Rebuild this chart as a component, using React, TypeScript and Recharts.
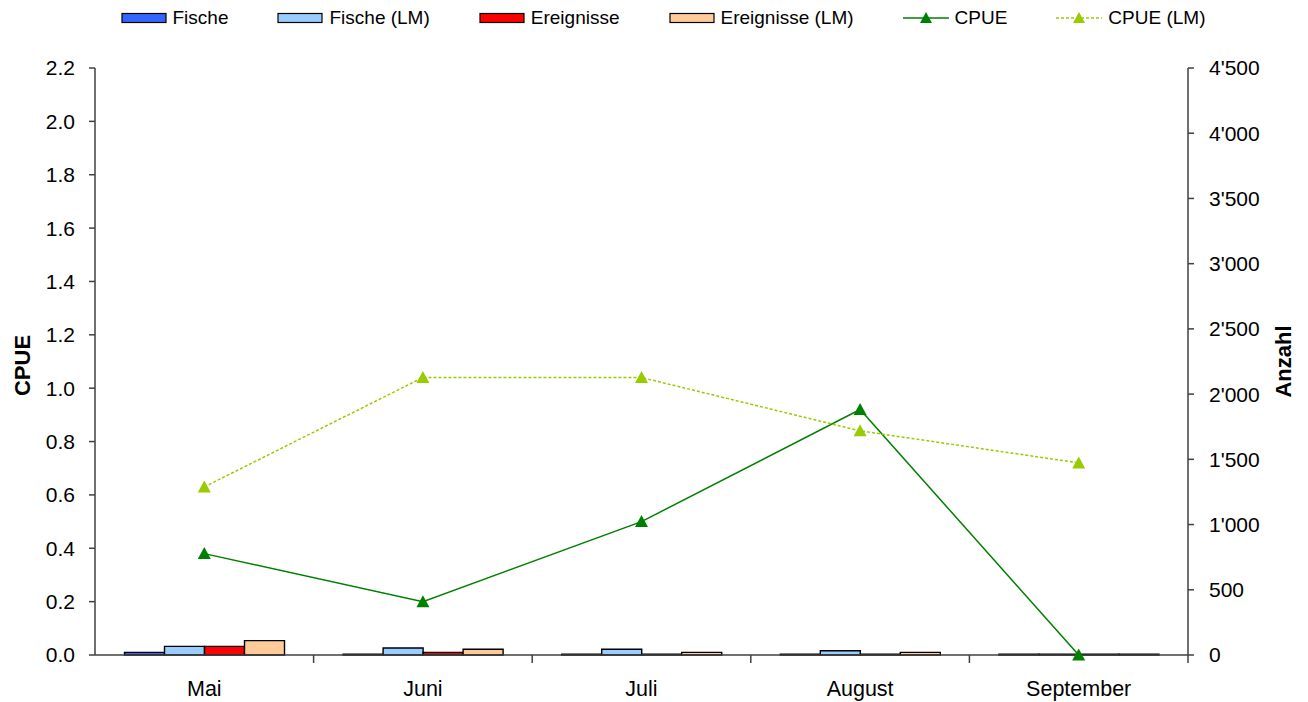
import {
  ComposedChart,
  Bar,
  Line,
  XAxis,
  YAxis,
  Legend,
} from 'recharts';

const months = ['Mai', 'Juni', 'Juli', 'August', 'September'];
const fische = [20, 6, 6, 6, 6];
const fischeLM = [66, 54, 44, 33, 6];
const ereignisse = [66, 20, 6, 6, 6];
const ereignisseLM = [110, 44, 20, 20, 6];
const cpue = [0.38, 0.2, 0.5, 0.92, 0];
const cpueLM = [0.63, 1.04, 1.04, 0.84, 0.72];

const cpueTicks = [0, 0.2, 0.4, 0.6, 0.8, 1.0, 1.2, 1.4, 1.6, 1.8, 2.0, 2.2];
const anzahlTicks = [0, 500, 1000, 1500, 2000, 2500, 3000, 3500, 4000, 4500];

const data = months.map((m, i) => ({
  month: m,
  fische: fische[i],
  fischeLM: fischeLM[i],
  ereignisse: ereignisse[i],
  ereignisseLM: ereignisseLM[i],
  cpue: cpue[i],
  cpueLM: cpueLM[i],
}));

const FONT = '"Liberation Sans", Arial, sans-serif';
const AXIS = '#404040';

const W = 1308;
const H = 702;
const LEFT = 95;
const RIGHT = 120;
const BAND = (W - LEFT - RIGHT) / months.length;

const legendItems = [
  { label: 'Fische', type: 'bar', color: '#3366ff' },
  { label: 'Fische (LM)', type: 'bar', color: '#99ccff' },
  { label: 'Ereignisse', type: 'bar', color: '#ff0000' },
  { label: 'Ereignisse (LM)', type: 'bar', color: '#ffcc99' },
  { label: 'CPUE', type: 'line', color: '#008000' },
  { label: 'CPUE (LM)', type: 'dash', color: '#99cc00' },
];

const fmtAnzahl = (v: number) =>
  String(v).replace(/\B(?=(\d{3})+(?!\d))/g, "'");

const Triangle = (props: any) => {
  const { cx, cy, fill } = props;
  if (cx == null || cy == null) return null;
  return (
    <polygon
      points={`${cx},${cy - 6.5} ${cx - 6.5},${cy + 5.5} ${cx + 6.5},${cy + 5.5}`}
      fill={fill}
    />
  );
};

// month label centred, tick mark on the category boundary
const MonthTick = (props: any) => {
  const { x, y, payload } = props;
  return (
    <g>
      <line x1={x + BAND / 2} y1={y - 8} x2={x + BAND / 2} y2={y} stroke={AXIS} strokeWidth={1.5} />
      <text x={x} y={y + 33} textAnchor="middle" fontSize={21.5} fontFamily={FONT} fill="#000">
        {payload.value}
      </text>
    </g>
  );
};

const LegendContent = () => (
  <div
    style={{
      display: 'flex',
      justifyContent: 'center',
      gap: 49,
      fontFamily: FONT,
      fontSize: 19,
      color: '#000',
      paddingLeft: 18,
    }}
  >
    {legendItems.map((it) => (
      <div key={it.label} style={{ display: 'flex', alignItems: 'center' }}>
        <svg width={46} height={14} style={{ marginRight: 6 }}>
          {it.type === 'bar' ? (
            <rect x={1} y={2.5} width={44} height={9} fill={it.color} stroke="#000" strokeWidth={1.2} />
          ) : (
            <>
              <line
                x1={0}
                y1={7}
                x2={46}
                y2={7}
                stroke={it.color}
                strokeWidth={1.5}
                strokeDasharray={it.type === 'dash' ? '3 2' : undefined}
              />
              <polygon points="23,1 17,12 29,12" fill={it.color} />
            </>
          )}
        </svg>
        <span>{it.label}</span>
      </div>
    ))}
  </div>
);

export default function App() {
  return (
    <div style={{ position: 'absolute', left: 0, top: 0, background: '#fff' }}>
      <ComposedChart
        width={W}
        height={H}
        data={data}
        margin={{ top: 46, right: 0, bottom: 0, left: 0 }}
        barGap={0}
        barCategoryGap="13.5%"
      >
        <Legend
          verticalAlign="top"
          content={<LegendContent />}
          wrapperStyle={{ top: 7, left: 0, width: W }}
        />
        <XAxis
          dataKey="month"
          height={47}
          tick={<MonthTick />}
          tickLine={false}
          axisLine={{ stroke: AXIS, strokeWidth: 1.5 }}
          interval={0}
        />
        <YAxis
          yAxisId="left"
          width={LEFT}
          domain={[0, 2.2]}
          ticks={cpueTicks}
          tickFormatter={(v: number) => v.toFixed(1)}
          tick={{ fontSize: 21, fontFamily: FONT, fill: '#000' }}
          tickSize={6}
          tickMargin={14}
          axisLine={{ stroke: AXIS, strokeWidth: 1.5 }}
          tickLine={{ stroke: AXIS, strokeWidth: 1.5 }}
          interval={0}
          label={{
            value: 'CPUE',
            angle: -90,
            position: 'center',
            dx: -25,
            dy: 4,
            style: { fontSize: 22, fontWeight: 'bold', fontFamily: FONT, fill: '#000' },
          }}
        />
        <YAxis
          yAxisId="right"
          orientation="right"
          width={RIGHT}
          domain={[0, 4500]}
          ticks={anzahlTicks}
          tickFormatter={fmtAnzahl}
          tick={{ fontSize: 21, fontFamily: FONT, fill: '#000' }}
          tickSize={6}
          tickMargin={15}
          axisLine={{ stroke: AXIS, strokeWidth: 1.5 }}
          tickLine={{ stroke: AXIS, strokeWidth: 1.5 }}
          interval={0}
          label={{
            value: 'Anzahl',
            angle: -90,
            position: 'center',
            dx: 35,
            style: { fontSize: 22, fontWeight: 'bold', fontFamily: FONT, fill: '#000' },
          }}
        />
        <Bar yAxisId="right" dataKey="fische" name="Fische" fill="#3366ff" stroke="#000" strokeWidth={1.4} isAnimationActive={false} />
        <Bar yAxisId="right" dataKey="fischeLM" name="Fische (LM)" fill="#99ccff" stroke="#000" strokeWidth={1.4} isAnimationActive={false} />
        <Bar yAxisId="right" dataKey="ereignisse" name="Ereignisse" fill="#ff0000" stroke="#000" strokeWidth={1.4} isAnimationActive={false} />
        <Bar yAxisId="right" dataKey="ereignisseLM" name="Ereignisse (LM)" fill="#ffcc99" stroke="#000" strokeWidth={1.4} isAnimationActive={false} />
        <Line
          yAxisId="left"
          dataKey="cpue"
          name="CPUE"
          stroke="#008000"
          strokeWidth={1.5}
          dot={<Triangle fill="#008000" />}
          activeDot={false}
          isAnimationActive={false}
        />
        <Line
          yAxisId="left"
          dataKey="cpueLM"
          name="CPUE (LM)"
          stroke="#99cc00"
          strokeWidth={1.5}
          strokeDasharray="3 2"
          dot={<Triangle fill="#99cc00" />}
          activeDot={false}
          isAnimationActive={false}
        />
      </ComposedChart>
    </div>
  );
}
